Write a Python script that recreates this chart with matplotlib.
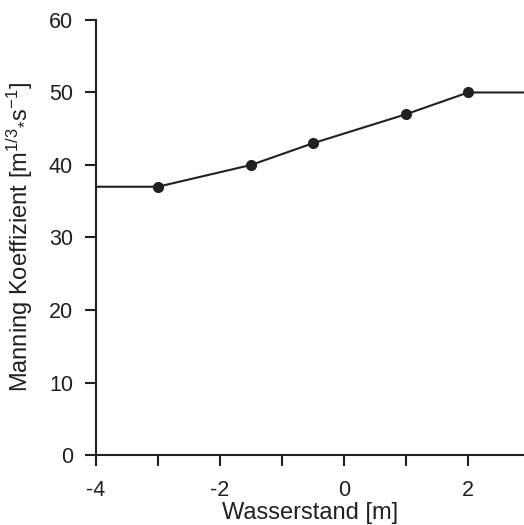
import matplotlib
matplotlib.use("Agg")
import matplotlib.pyplot as plt
from matplotlib import ticker

# Data
wasserstand = [-4, -3, -1.5, -0.5, 1, 2, 3]
manning = [37, 37, 40, 43, 47, 50, 50]
marker_x = [-3, -1.5, -0.5, 1, 2]
marker_y = [37, 40, 43, 47, 50]

plt.rcParams["font.family"] = ["Liberation Sans", "DejaVu Sans"]
plt.rcParams["mathtext.fontset"] = "custom"
plt.rcParams["mathtext.rm"] = "Liberation Sans"
plt.rcParams["mathtext.it"] = "Liberation Sans"
plt.rcParams["axes.unicode_minus"] = False

col = "#231f20"
fig = plt.figure(figsize=(5.24, 5.25), dpi=100)
ax = fig.add_axes([0.183, 0.1333, 0.817, 0.8287])

ax.plot(wasserstand, manning, color=col, linewidth=1.5, zorder=2)
ax.plot(marker_x, marker_y, "o", color=col, markersize=7, zorder=3)

ax.set_xlim(-4, 2.9)
ax.set_ylim(0, 60)
ax.xaxis.set_major_locator(ticker.MultipleLocator(2))
ax.xaxis.set_minor_locator(ticker.MultipleLocator(1))
ax.yaxis.set_major_locator(ticker.MultipleLocator(10))

ax.spines["top"].set_visible(False)
ax.spines["right"].set_visible(False)
for s in ("left", "bottom"):
    ax.spines[s].set_color(col)
    ax.spines[s].set_linewidth(1.5)

ax.tick_params(axis="both", which="both", direction="out", color=col,
               width=1.5, length=8, labelsize=15.5, labelcolor=col)
ax.tick_params(axis="y", which="major", pad=8.5)
ax.tick_params(axis="x", which="major", pad=10)

ax.set_xlabel("Wasserstand [m]", fontsize=17, color=col)
ax.set_ylabel("Manning Koeffizient [m$^{1/3}$$_{*}$s$^{-1}$]", fontsize=17, color=col)
ax.xaxis.set_label_coords(0.5, -0.108)
ax.yaxis.set_label_coords(-0.143, 0.5)

fig.savefig("out.png", dpi=100)
